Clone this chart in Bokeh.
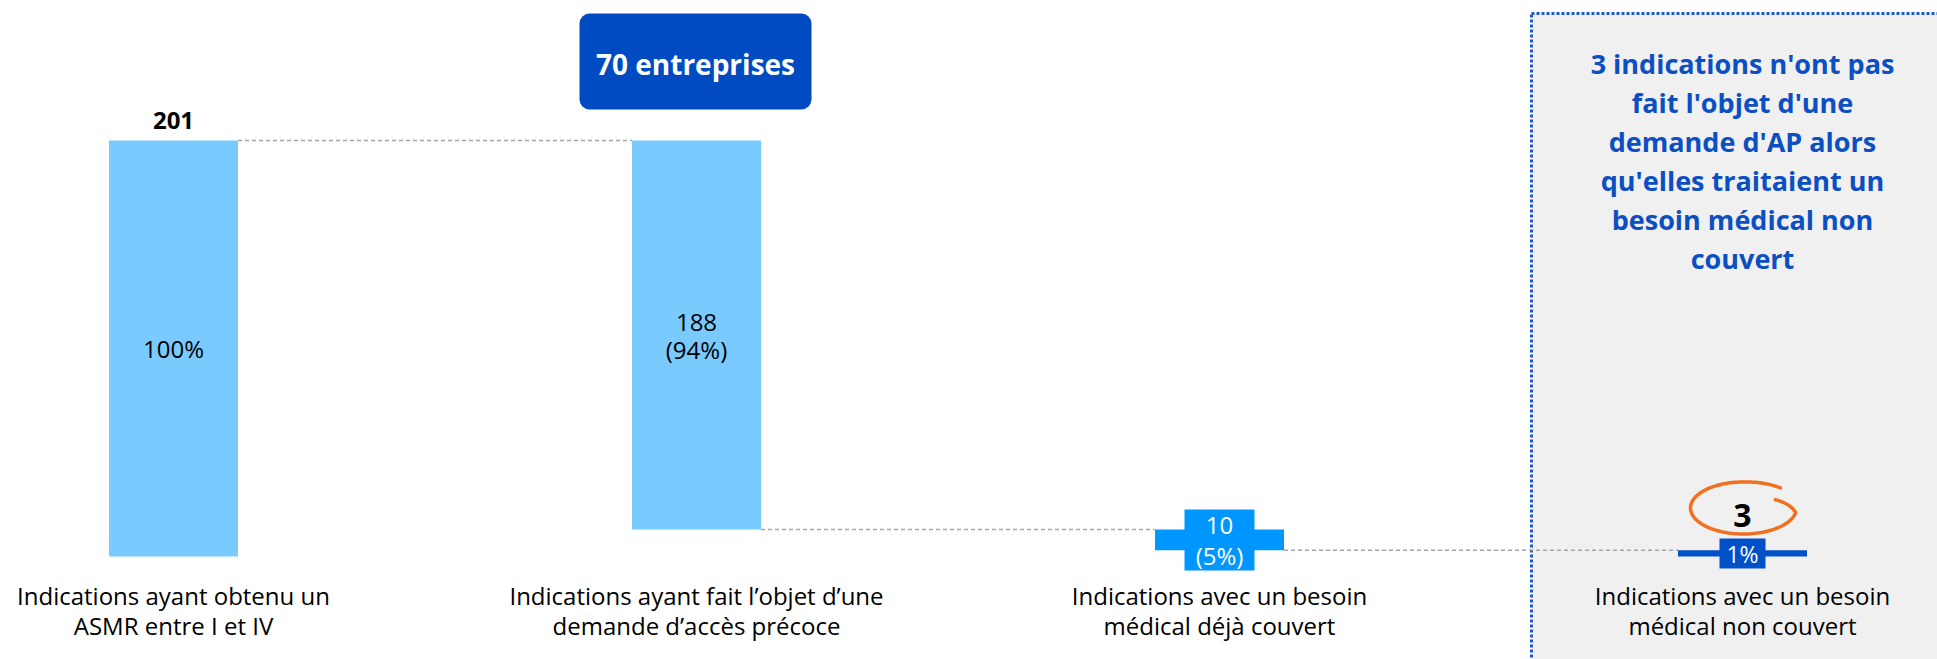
import numpy as np
from bokeh.plotting import figure
from bokeh.embed import file_html
from bokeh.resources import INLINE
from bokeh.core.properties import value
from bokeh.models import Range1d, ColumnDataSource

# ---------------- data ----------------
categories = [
    ["Indications ayant obtenu un", "ASMR entre I et IV"],
    ["Indications ayant fait l\u2019objet d\u2019une", "demande d\u2019acc\u00e8s pr\u00e9coce"],
    ["Indications avec un besoin", "m\u00e9dical d\u00e9j\u00e0 couvert"],
    ["Indications avec un besoin", "m\u00e9dical non couvert"],
]
values = [201, 188, 10, 3]
pct_labels = ["100%", "(94%)", "(5%)", "1%"]
companies_label = "70 entreprises"
panel_lines = [
    "3 indications n'ont pas",
    "fait l'objet d'une",
    "demande d'AP alors",
    "qu'elles traitaient un",
    "besoin m\u00e9dical non",
    "couvert",
]

# waterfall: total, then subtractions, then remaining total
tops = [values[0], values[0], values[0] - values[1], values[3]]
bottoms = [0, values[0] - values[1], values[0] - values[1] - values[2], 0]
mids = [(t + b) / 2 for t, b in zip(tops, bottoms)]
xs = list(range(len(values)))

# ---------------- layout ----------------
W, H = 1937, 659
BASE = 556.0                 # baseline (screen px from top)
K = 416.0 / 201.0            # px per unit
X0, DX = 173.0, 523.0        # first category centre / spacing (px)
BW = 129.0 / DX              # bar width in category units
colors = ["#79CBFF", "#79CBFF", "#0096FF", "#0050C8"]

def Y(fy):
    return (BASE - fy) / K

def X(fx):
    return (fx - X0) / DX

FONT = value("Open Sans")

p = figure(width=W, height=H, output_backend="svg", toolbar_location=None,
           x_range=Range1d(X(0), X(W)), y_range=Range1d(Y(H), Y(0)),
           min_border=0, outline_line_color=None)
p.axis.visible = False
p.grid.visible = False
p.background_fill_color = "white"
p.border_fill_color = "white"

# grey side panel
p.quad(left=[X(1531)], right=[X(W + 60)], top=[Y(13)], bottom=[Y(H + 60)],
       fill_color="#F0F0F0", line_color="#1F5BC6", line_width=3, line_dash="3 2")

# connectors
gray = "#A6A6A6"
p.segment(x0=[x + BW / 2 for x in xs[:-1]],
          y0=[tops[0], bottoms[1], bottoms[2]],
          x1=[x - BW / 2 for x in xs[1:]],
          y1=[tops[1], tops[2], tops[3]],
          line_color=gray, line_width=1.5, line_dash="4 3")

# bars
src = ColumnDataSource(dict(x=xs, top=tops, bottom=bottoms, color=colors))
p.vbar(x="x", width=BW, top="top", bottom="bottom", fill_color="color", line_color=None, source=src)

# label boxes on the small bars
p.rect(x=[xs[2]], y=[mids[2]], width=[70], height=[61], width_units="screen", height_units="screen",
       fill_color=colors[2], line_color=None)
p.rect(x=[xs[3]], y=[mids[3]], width=[46], height=[30], width_units="screen", height_units="screen",
       fill_color=colors[3], line_color=None)

def label(x, y, txt, size="24px", color="black", bold=False, dy=0):
    p.text(x=[x], y=[y], y_offset=dy, text=[txt], text_font=FONT,
           text_font_style="bold" if bold else "normal", text_font_size=size,
           text_align="center", text_baseline="middle", text_color=color)

# value labels
label(xs[0], tops[0], str(values[0]), bold=True, dy=-20)
label(xs[0], mids[0], pct_labels[0])
label(xs[1], mids[1], str(values[1]), dy=-13)
label(xs[1], mids[1], pct_labels[1], dy=14)
label(xs[2], mids[2], str(values[2]), color="white", dy=-14.5)
label(xs[2], mids[2], pct_labels[2], color="white", dy=15.5)
label(xs[3], mids[3], pct_labels[3], size="23px", color="white", dy=1)
label(xs[3], mids[3], str(values[3]), size="32px", bold=True, dy=-38)

# orange hand-drawn loop around the "3"
cx, cy = xs[3] + 1 / DX, Y(507.5)
t = np.radians(np.linspace(48, 388, 140))
r = np.where(t < np.radians(350), 1.0, 1.0 - 0.32 * (t - np.radians(350)) / np.radians(38))
r = r * np.where(t < np.radians(90), 1.0 + 0.04 * (np.radians(90) - t) / np.radians(42), 1.0)
p.line(x=cx + (53 / DX) * r * np.cos(t), y=cy + (26 / K) * r * np.sin(t),
       line_color="#F07020", line_width=3.5, line_cap="round")

# category labels
for i, (l1, l2) in enumerate(categories):
    p.text(x=[xs[i], xs[i]], y=[0, 0], y_offset=[39, 69], text=[l1, l2], text_font=FONT,
           text_font_size="24px", text_align="center", text_baseline="middle", text_color="black")

# "70 entreprises" badge (over the second category)
p.block(x=[X(579)], y=[Y(109)], width=[232 / DX], height=[96 / K], fill_color="#004BC1",
        line_color=None, border_radius=10)
p.text(x=[X(695)], y=[Y(63)], text=[companies_label], text_font=FONT, text_font_style="bold",
       text_font_size="28px", text_align="center", text_baseline="middle", text_color="white")

# panel text
p.text(x=[xs[3]] * len(panel_lines), y=[Y(63 + 39 * i) for i in range(len(panel_lines))],
       text=panel_lines, text_font=FONT, text_font_style="bold", text_font_size="27px",
       text_align="center", text_baseline="middle", text_color="#0B4FC2")

open("out.html", "w").write(file_html(p, INLINE))
